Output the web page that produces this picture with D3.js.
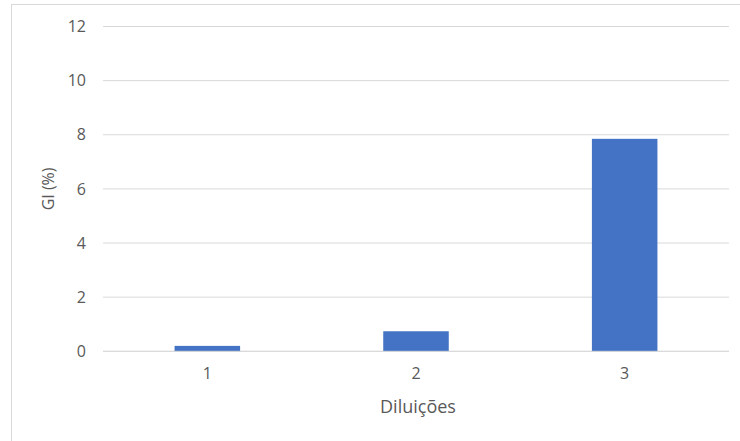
<!DOCTYPE html>
<html>
<head>
<meta charset="utf-8">
<script src="https://cdn.jsdelivr.net/npm/d3@7"></script>
<style>
  html, body { margin: 0; padding: 0; background: #fff; }
  svg { display: block; }
  text { font-family: "Open Sans", "Noto Sans", sans-serif; fill: #595959; }
</style>
</head>
<body>
<svg id="chart" width="740" height="441"></svg>
<script>
// Diluições vs GI (%)
const categories = ["1", "2", "3"];
const giValues = [0.2, 0.74, 7.85];
const yTicks = [0, 2, 4, 6, 8, 10, 12];

const W = 740, H = 441;
const margin = { left: 103, right: 11, top: 26.5, bottom: 89.7 };

const svg = d3.select("#chart");

// outer chart frame
svg.append("rect")
  .attr("x", 11.5).attr("y", 4.5)
  .attr("width", W + 10).attr("height", H + 10)
  .attr("fill", "none").attr("stroke", "#d9d9d9").attr("stroke-width", 1);

const x = d3.scaleBand()
  .domain(categories)
  .range([margin.left, W - margin.right])
  .paddingInner(0.686)
  .paddingOuter(0.343);

const y = d3.scaleLinear()
  .domain([0, 12])
  .range([H - margin.bottom, margin.top]);

// horizontal gridlines
svg.append("g")
  .selectAll("line")
  .data(yTicks)
  .join("line")
  .attr("x1", margin.left).attr("x2", W - margin.right)
  .attr("y1", d => y(d)).attr("y2", d => y(d))
  .attr("stroke", "#d9d9d9").attr("stroke-width", 1);

// y axis labels
const yAxis = d3.axisLeft(y).tickValues(yTicks).tickSize(0).tickPadding(0);
const gy = svg.append("g")
  .attr("transform", `translate(${margin.left - 17},0)`)
  .call(yAxis);
gy.select(".domain").remove();
gy.selectAll("text")
  .attr("font-size", 16)
  .attr("font-family", "'Open Sans', sans-serif")
  .attr("fill", "#595959");

// bars
svg.append("g")
  .selectAll("rect")
  .data(giValues)
  .join("rect")
  .attr("x", (d, i) => x(categories[i]))
  .attr("width", x.bandwidth())
  .attr("y", d => y(d))
  .attr("height", d => y(0) - y(d))
  .attr("fill", "#4472c4");

// baseline
svg.append("line")
  .attr("x1", margin.left).attr("x2", W - margin.right)
  .attr("y1", y(0)).attr("y2", y(0))
  .attr("stroke", "#d9d9d9").attr("stroke-width", 1);

// x axis labels
const xAxis = d3.axisBottom(x).tickSize(0).tickPadding(0);
const gx = svg.append("g")
  .attr("transform", `translate(0,${y(0) + 16})`)
  .call(xAxis);
gx.select(".domain").remove();
gx.selectAll("text")
  .attr("font-size", 16)
  .attr("font-family", "'Open Sans', sans-serif")
  .attr("fill", "#595959");

// axis titles
svg.append("text")
  .attr("x", (margin.left + W - margin.right) / 2 + 2)
  .attr("y", 413)
  .attr("text-anchor", "middle")
  .attr("font-size", 18)
  .text("Diluições");

svg.append("text")
  .attr("transform", `translate(54,${(y(0) + y(12)) / 2}) rotate(-90)`)
  .attr("text-anchor", "middle")
  .attr("font-size", 16)
  .text("GI (%)");
</script>
</body>
</html>
